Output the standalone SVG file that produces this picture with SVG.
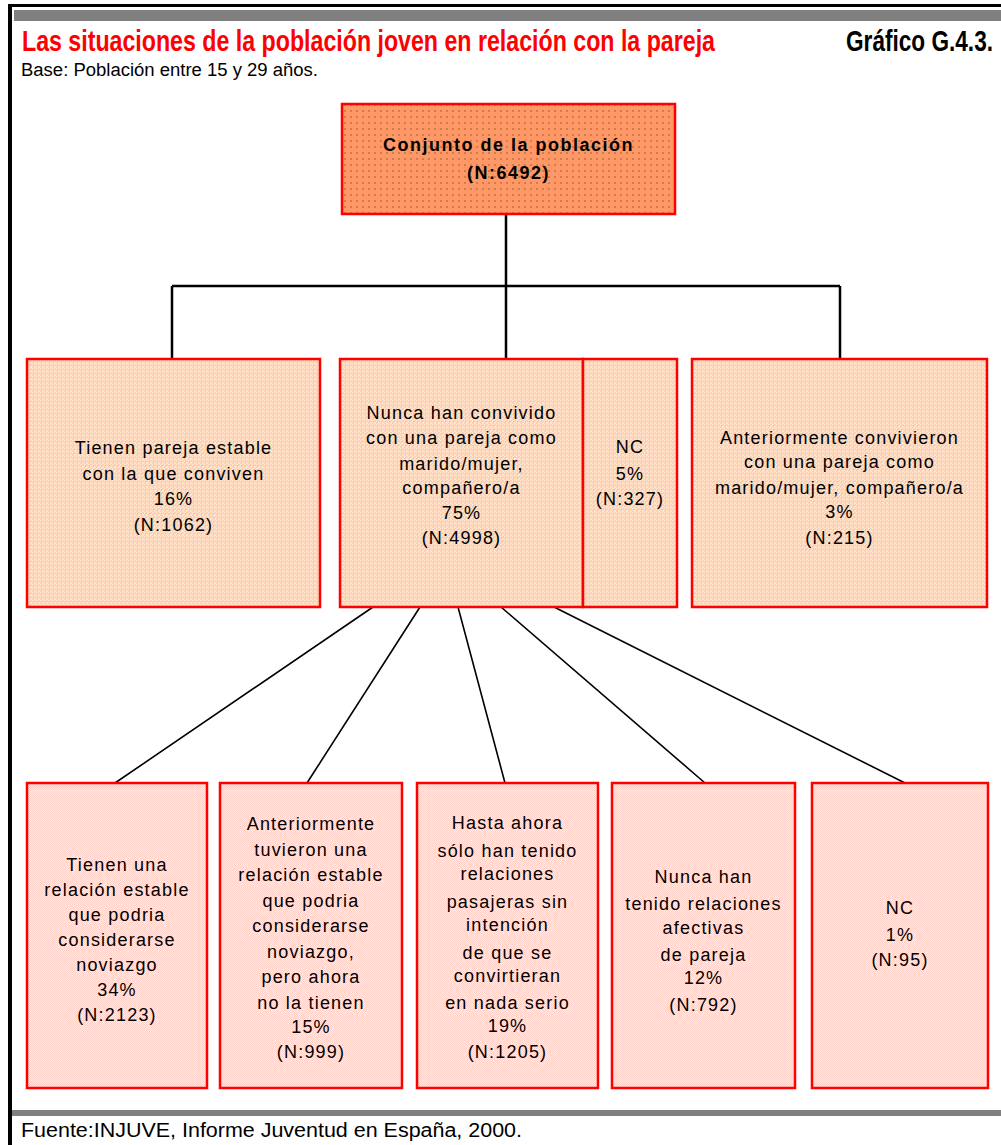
<svg xmlns="http://www.w3.org/2000/svg" width="1001" height="1145" viewBox="0 0 1001 1145">
<defs>
<pattern id="pTop" width="6" height="6" patternUnits="userSpaceOnUse">
<rect width="6" height="6" fill="#FF9866"/>
<rect x="2" y="2" width="2" height="2" fill="#D07E48"/>
</pattern>
<pattern id="pMid" width="4" height="4" patternUnits="userSpaceOnUse">
<rect width="4" height="4" fill="#FFCFC2"/>
<rect x="0" y="0" width="2" height="2" fill="#FAE6C0"/>
<rect x="2" y="2" width="2" height="2" fill="#FAE6C0"/>
<rect x="1" y="1" width="1" height="1" fill="#C8CC98"/>
</pattern>
<pattern id="pBot" width="2" height="2" patternUnits="userSpaceOnUse">
<rect width="2" height="2" fill="#FFEDE8"/>
<rect x="0" y="0" width="1" height="1" fill="#FFD0C8"/>
<rect x="1" y="1" width="1" height="1" fill="#FFD0C8"/>
</pattern>
</defs>
<style>
.box{stroke:#FF0000;stroke-width:2.5}
.t{font-family:"Liberation Sans",Arial,sans-serif;font-size:18px;fill:#000;text-anchor:middle;letter-spacing:1.2px}
.tb{font-family:"Liberation Sans",Arial,sans-serif;font-size:18px;font-weight:bold;fill:#000;text-anchor:middle;letter-spacing:1.5px}
.hd{font-family:"Liberation Sans",Arial,sans-serif;font-size:30px;font-weight:bold}
.conn{stroke:#000;fill:none}
</style>
<rect width="1001" height="1145" fill="#FFFFFF"/>
<g id="frame">
<rect x="8" y="4" width="993" height="3" fill="#000"/>
<rect x="8" y="4" width="4" height="1141" fill="#000"/>
<rect x="14" y="10" width="987" height="11" fill="#808080"/>
<rect x="12" y="1110" width="989" height="6" fill="#808080"/>
</g>
<g id="header">
<g transform="scale(0.75,1)">
<text class="hd" x="29.33" y="51" fill="#FF0000" textLength="924" lengthAdjust="spacingAndGlyphs">Las situaciones de la población joven en relación con la pareja</text>
<text class="hd" x="1128" y="51" fill="#000" textLength="196" lengthAdjust="spacingAndGlyphs">Gráfico G.4.3.</text>
</g>
<text x="21" y="76" font-family="'Liberation Sans',Arial,sans-serif" font-size="18" fill="#000" textLength="297" lengthAdjust="spacingAndGlyphs">Base: Población entre 15 y 29 años.</text>
</g>
<g id="connectors">
<path class="conn" stroke-width="2.5" d="M506,214 V359 M172,286 H840 M172,286 V359 M840,286 V359"/>
<path class="conn" stroke-width="1.6" d="M373,607 L115,783 M420,607 L307,783 M458,607 L505,783 M501,607 L705,783 M554,607 L905,783"/>
</g>
<g id="node-conjunto">
<rect class="box" x="342" y="104" width="333" height="110" fill="url(#pTop)"/>
<text class="tb" x="508.5" y="151">Conjunto de la población</text>
<text class="tb" x="508.5" y="179">(N:6492)</text>
</g>
<g id="node-conviven">
<rect class="box" x="27" y="359" width="293" height="248" fill="url(#pMid)"/>
<text class="t" x="173.5" y="454">Tienen pareja estable</text>
<text class="t" x="173.5" y="480">con la que conviven</text>
<text class="t" x="173.5" y="505">16%</text>
<text class="t" x="173.5" y="531">(N:1062)</text>
</g>
<g id="node-nunca">
<rect class="box" x="340" y="359" width="243" height="248" fill="url(#pMid)"/>
<text class="t" x="461.5" y="419">Nunca han convivido</text>
<text class="t" x="461.5" y="444">con una pareja como</text>
<text class="t" x="461.5" y="470">marido/mujer,</text>
<text class="t" x="461.5" y="494">compañero/a</text>
<text class="t" x="461.5" y="519">75%</text>
<text class="t" x="461.5" y="544">(N:4998)</text>
</g>
<g id="node-nc1">
<rect class="box" x="583" y="359" width="94" height="248" fill="url(#pMid)"/>
<text class="t" x="630" y="453">NC</text>
<text class="t" x="630" y="480">5%</text>
<text class="t" x="630" y="505">(N:327)</text>
</g>
<g id="node-anteriormente">
<rect class="box" x="692" y="359" width="295" height="248" fill="url(#pMid)"/>
<text class="t" x="839.5" y="444">Anteriormente convivieron</text>
<text class="t" x="839.5" y="468">con una pareja como</text>
<text class="t" x="839.5" y="494">marido/mujer, compañero/a</text>
<text class="t" x="839.5" y="518">3%</text>
<text class="t" x="839.5" y="544">(N:215)</text>
</g>
<g id="node-noviazgo">
<rect class="box" x="27" y="783" width="180" height="305" fill="url(#pBot)"/>
<text class="t" x="117" y="871">Tienen una</text>
<text class="t" x="117" y="896">relación estable</text>
<text class="t" x="117" y="921">que podria</text>
<text class="t" x="117" y="946">considerarse</text>
<text class="t" x="117" y="971">noviazgo</text>
<text class="t" x="117" y="996">34%</text>
<text class="t" x="117" y="1021">(N:2123)</text>
</g>
<g id="node-tuvieron">
<rect class="box" x="220" y="783" width="182" height="305" fill="url(#pBot)"/>
<text class="t" x="311" y="830">Anteriormente</text>
<text class="t" x="311" y="856">tuvieron una</text>
<text class="t" x="311" y="881">relación estable</text>
<text class="t" x="311" y="907">que podria</text>
<text class="t" x="311" y="932">considerarse</text>
<text class="t" x="311" y="958">noviazgo,</text>
<text class="t" x="311" y="983">pero ahora</text>
<text class="t" x="311" y="1009">no la tienen</text>
<text class="t" x="311" y="1033">15%</text>
<text class="t" x="311" y="1058">(N:999)</text>
</g>
<g id="node-pasajeras">
<rect class="box" x="417" y="783" width="181" height="305" fill="url(#pBot)"/>
<text class="t" x="507.5" y="829">Hasta ahora</text>
<text class="t" x="507.5" y="857">sólo han tenido</text>
<text class="t" x="507.5" y="880">relaciones</text>
<text class="t" x="507.5" y="908">pasajeras sin</text>
<text class="t" x="507.5" y="931">intención</text>
<text class="t" x="507.5" y="959">de que se</text>
<text class="t" x="507.5" y="982">convirtieran</text>
<text class="t" x="507.5" y="1009">en nada serio</text>
<text class="t" x="507.5" y="1032">19%</text>
<text class="t" x="507.5" y="1058">(N:1205)</text>
</g>
<g id="node-nunca-afectivas">
<rect class="box" x="612" y="783" width="183" height="305" fill="url(#pBot)"/>
<text class="t" x="703.5" y="883">Nunca han</text>
<text class="t" x="703.5" y="910">tenido relaciones</text>
<text class="t" x="703.5" y="934">afectivas</text>
<text class="t" x="703.5" y="961">de pareja</text>
<text class="t" x="703.5" y="984">12%</text>
<text class="t" x="703.5" y="1011">(N:792)</text>
</g>
<g id="node-nc2">
<rect class="box" x="812" y="783" width="176" height="305" fill="url(#pBot)"/>
<text class="t" x="900" y="914">NC</text>
<text class="t" x="900" y="941">1%</text>
<text class="t" x="900" y="966">(N:95)</text>
</g>
<g id="footer">
<text x="21" y="1137" font-family="'Liberation Sans',Arial,sans-serif" font-size="20" fill="#000" textLength="501" lengthAdjust="spacingAndGlyphs">Fuente:INJUVE, Informe Juventud en España, 2000.</text>
</g>
</svg>
